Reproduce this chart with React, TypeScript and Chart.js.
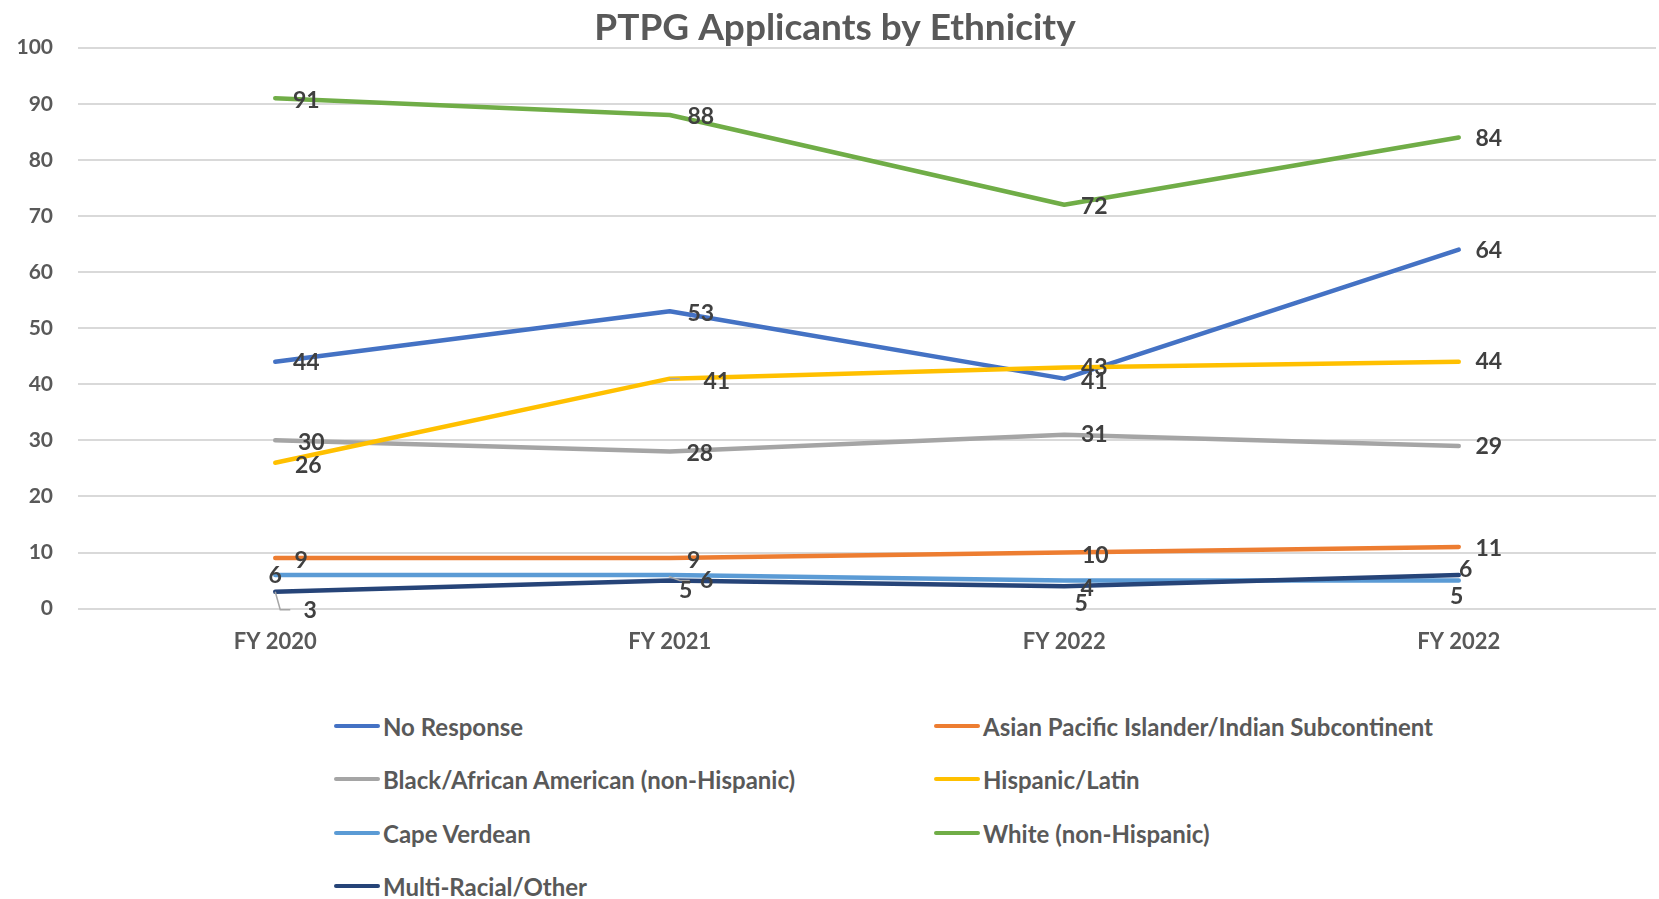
import React, { useEffect, useRef } from "react";
import { Chart, registerables } from "chart.js";

Chart.register(...registerables);

const FONT = "Lato, 'Open Sans', sans-serif";
const TEXT_GRAY = "#595959";
const LABEL_GRAY = "#404040";

// ---- data ----
const categories = ["FY 2020", "FY 2021", "FY 2022", "FY 2022"];
const seriesNames = [
  "No Response",
  "Asian Pacific Islander/Indian Subcontinent",
  "Black/African American (non-Hispanic)",
  "Hispanic/Latin",
  "Cape Verdean",
  "White (non-Hispanic)",
  "Multi-Racial/Other",
];
const noResponse = [44, 53, 41, 64];
const asianPacific = [9, 9, 10, 11];
const blackAfrican = [30, 28, 31, 29];
const hispanicLatin = [26, 41, 43, 44];
const capeVerdean = [6, 6, 5, 5];
const whiteNonHispanic = [91, 88, 72, 84];
const multiRacial = [3, 5, 4, 6];
const yTicks = { min: 0, max: 100, step: 10 };

// ---- styles ----
const seriesColors = ["#4472C4", "#ED7D31", "#A5A5A5", "#FFC000", "#5B9BD5", "#70AD47", "#264478"];

// label offsets [dx, dy] from each point (px)
const labelOffsets: number[][][] = [
  [[31, 1], [31, 2], [30, 3], [30, 1]],
  [[26, 2], [24, 2], [31, 3], [30, 2]],
  [[36, 2], [30, 2], [30, 0], [30, 1]],
  [[33, 3], [47, 3], [30, 0], [30, 0]],
  [[0, 1], [37, 6], [17, 23], [-2, 16]],
  [[31, 2], [31, 2], [30, 2], [30, 1]],
  [[35, 19], [16, 10], [23, 2], [7, -5]],
];
// leader lines: [datasetIndex, pointIndex, polyline relative points]
const leaders: [number, number, number[][]][] = [
  [6, 0, [[0, 0], [5, 18], [15, 18]]],
  [6, 1, [[-1, -4], [10, 0], [20, 0]]],
  [3, 1, [[0, 0], [10, 0]]],
];

const allSeries = [noResponse, asianPacific, blackAfrican, hispanicLatin, capeVerdean, whiteNonHispanic, multiRacial];

const dataLabelPlugin = {
  id: "excelDataLabels",
  afterDatasetsDraw(chart: any) {
    const ctx = chart.ctx;
    ctx.save();
    ctx.strokeStyle = "#A6A6A6";
    ctx.lineWidth = 1.5;
    leaders.forEach(([di, pi, pts]) => {
      const el = chart.getDatasetMeta(di).data[pi];
      ctx.beginPath();
      pts.forEach(([x, y], k) => {
        if (k === 0) ctx.moveTo(el.x + x, el.y + y);
        else ctx.lineTo(el.x + x, el.y + y);
      });
      ctx.stroke();
    });
    ctx.font = `bold 23px ${FONT}`;
    ctx.fillStyle = LABEL_GRAY;
    ctx.textAlign = "center";
    ctx.textBaseline = "middle";
    chart.data.datasets.forEach((ds: any, di: number) => {
      const meta = chart.getDatasetMeta(di);
      meta.data.forEach((el: any, i: number) => {
        const [dx, dy] = labelOffsets[di][i];
        ctx.fillText(String(ds.data[i]), el.x + dx, el.y + dy);
      });
    });
    ctx.restore();
  },
};

const legendRows = [
  [0, 1],
  [2, 3],
  [4, 5],
  [6],
];
const legendRowY = [726, 779, 833, 886];
const legendColX = [334, 934];

export default function App() {
  const canvasRef = useRef<HTMLCanvasElement | null>(null);

  useEffect(() => {
    document.body.style.margin = "0";
    const canvas = canvasRef.current;
    if (!canvas) return;
    const chart = new Chart(canvas, {
      type: "line",
      data: {
        labels: categories,
        datasets: allSeries.map((d, i) => ({
          label: seriesNames[i],
          data: d,
          borderColor: seriesColors[i],
          backgroundColor: seriesColors[i],
          borderWidth: 4.5,
          pointRadius: 0,
          pointHoverRadius: 0,
          tension: 0,
          borderCapStyle: "round",
          borderJoinStyle: "round",
          order: allSeries.length - i,
        })),
      },
      options: {
        responsive: false,
        animation: false,
        devicePixelRatio: 1,
        layout: { padding: { left: 14, right: 3, top: 0, bottom: 15 } },
        plugins: {
          legend: { display: false },
          tooltip: { enabled: false },
          title: {
            display: true,
            text: "PTPG Applicants by Ethnicity",
            color: TEXT_GRAY,
            font: { family: FONT, size: 37, weight: "bold", lineHeight: 1.1 },
            padding: { top: 8, bottom: -1 },
          },
        },
        scales: {
          x: {
            offset: true,
            grid: { display: false, drawTicks: false },
            border: { display: false },
            ticks: {
              color: TEXT_GRAY,
              padding: 20,
              font: { family: FONT, size: 22, weight: "bold" },
              maxRotation: 0,
            },
          },
          y: {
            min: yTicks.min,
            max: yTicks.max,
            grid: { color: "#D9D9D9", lineWidth: 2, drawTicks: false },
            border: { display: false },
            ticks: {
              stepSize: yTicks.step,
              color: TEXT_GRAY,
              padding: 25,
              font: { family: FONT, size: 21, weight: "bold" },
            },
            afterFit(scale: any) {
              scale.width = 64;
            },
          },
        },
      },
      plugins: [dataLabelPlugin],
    } as any);
    return () => chart.destroy();
  }, []);

  return (
    <div style={{ position: "absolute", left: 0, top: 0, width: 1659, height: 899, background: "#fff", overflow: "hidden" }}>
      <canvas ref={canvasRef} width={1659} height={690} style={{ position: "absolute", left: 0, top: 0 }} />
      {legendRows.map((row, r) =>
        row.map((si, c) => (
          <div
            key={si}
            style={{
              position: "absolute",
              left: legendColX[c],
              top: legendRowY[r] - 15,
              height: 30,
              display: "flex",
              alignItems: "center",
              fontFamily: FONT,
              fontWeight: "bold",
              fontSize: 24,
              color: TEXT_GRAY,
              whiteSpace: "nowrap",
            }}
          >
            <span
              style={{
                display: "inline-block",
                width: 46,
                height: 4.5,
                borderRadius: 3,
                background: seriesColors[si],
                marginRight: 3,
              }}
            />
            <span>{seriesNames[si]}</span>
          </div>
        ))
      )}
    </div>
  );
}
